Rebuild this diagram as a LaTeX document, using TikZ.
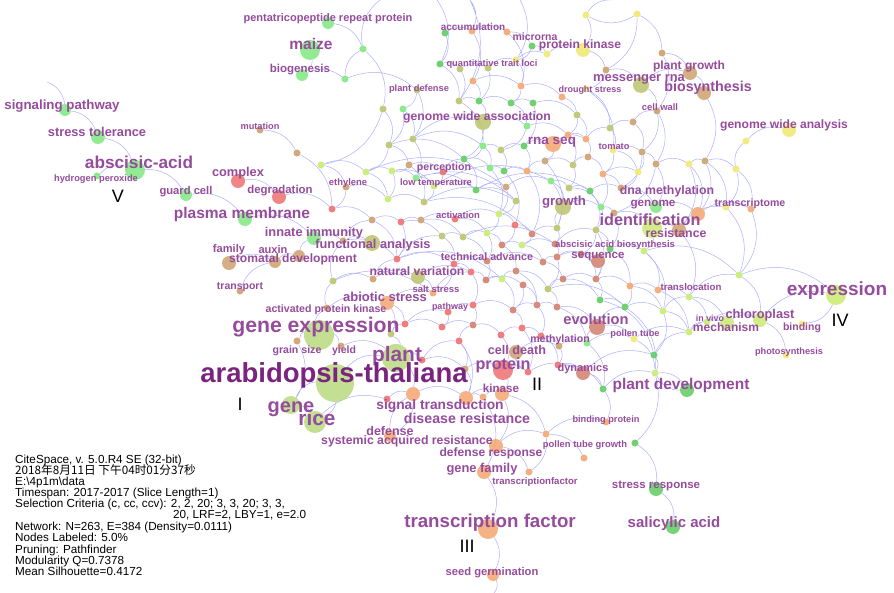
\documentclass[tikz,border=0pt]{standalone}
\usepackage{fontspec}
\setmainfont{Liberation Sans}
\newfontfamily\cjk{Noto Sans CJK SC}
\pgfdeclarelayer{bg}
\pgfsetlayers{bg,main}

\definecolor{kwtext}{RGB}{150,76,156}
\definecolor{kwdark}{RGB}{122,36,128}
\definecolor{linkblue}{RGB}{172,176,252}
\definecolor{cgreen}{RGB}{128,232,128}
\definecolor{cdgreen}{RGB}{96,204,96}
\definecolor{clime}{RGB}{200,236,112}
\definecolor{colive}{RGB}{188,196,108}
\definecolor{cyellow}{RGB}{240,232,112}
\definecolor{ctan}{RGB}{206,160,110}
\definecolor{corange}{RGB}{244,166,112}
\definecolor{cred}{RGB}{238,112,112}
\definecolor{crose}{RGB}{210,128,110}
\definecolor{cpale}{RGB}{184,218,128}

\tikzset{
    every node/.style={inner sep=0pt},
    kw/.style={circle,minimum size=#1,fill opacity=.85},
    sdot/.style={circle,minimum size=7,fill opacity=.9},
    lbl/.style={anchor=base,text=kwtext,font=\fontsize{#1}{#1}\selectfont\bfseries},
    num/.style={anchor=base,font=\fontsize{18}{18}\selectfont},
    info/.style={anchor=base west,font=\fontsize{11.7}{11.7}\selectfont},
    link/.style={draw=linkblue,line width=.5pt,bend left=30}
}

\begin{document}
\begin{tikzpicture}[x=1pt,y=-1pt]
\useasboundingbox (0,0) rectangle (894,593);

% free ends of links
\coordinate (c1) at (47,82);
\coordinate (t1) at (380,0);
\coordinate (t2) at (437,0);
\coordinate (t3) at (470,0);
\coordinate (t4) at (520,0);
\coordinate (t5) at (612,0);
\coordinate (b1) at (494,593);

% keyword nodes
\node[kw=12,fill=cgreen] (ppr) at (328,23) {};
\node[kw=20,fill=cgreen] (maize) at (310,50) {};
\node[kw=12,fill=cgreen] (biogen) at (302,75) {};
\node[kw=12,fill=cgreen] (sigpath) at (65,110) {};
\node[kw=14,fill=cgreen] (strtol) at (98,137) {};
\node[kw=20,fill=cgreen] (aba) at (135,170) {};
\node[kw=12,fill=cgreen] (guard) at (186,195) {};
\node[kw=14,fill=cred] (complex) at (238,181) {};
\node[kw=14,fill=cred] (degrad) at (279,197) {};
\node[kw=14,fill=cgreen] (plasma) at (245,219) {};
\node[kw=14,fill=cgreen] (innate) at (314,238) {};
\node[kw=16,fill=colive] (funcan) at (372,243) {};
\node[kw=14,fill=ctan] (family) at (229,263) {};
\node[kw=12,fill=ctan] (auxin) at (275,262) {};
\node[kw=12,fill=ctan] (stomatal) at (299,256) {};
\node[kw=14,fill=colive] (natvar) at (418,277) {};
\node[kw=14,fill=corange] (abiotic) at (387,303) {};
\node[kw=30,fill=cpale] (genexp) at (319,335) {};
\node[kw=28,fill=cpale] (plant) at (396,358) {};
\node[kw=38,fill=cpale] (arab) at (335,383) {};
\node[kw=18,fill=cpale] (gene) at (291,405) {};
\node[kw=22,fill=cpale] (rice) at (315,422) {};
\node[kw=14,fill=corange] (sigtr) at (413,394) {};
\node[kw=14,fill=corange] (sigtr2) at (466,398) {};
\node[kw=14,fill=corange] (kinase) at (502,394) {};
\node[kw=12,fill=corange] (defense) at (390,436) {};
\node[kw=14,fill=corange] (defresp) at (496,446) {};
\node[kw=14,fill=corange] (genefam) at (484,472) {};
\node[kw=20,fill=corange] (tf) at (488,529) {};
\node[kw=12,fill=corange] (seedg) at (493,575) {};
\node[kw=14,fill=ctan] (celldeath) at (516,352) {};
\node[kw=20,fill=cred] (protein) at (503,370) {};
\node[kw=16,fill=crose] (evol) at (597,327) {};
\node[kw=14,fill=crose] (dyn) at (583,373) {};
\node[kw=14,fill=cdgreen] (plantdev) at (687,390) {};
\node[kw=14,fill=cdgreen] (stressresp) at (656,489) {};
\node[kw=14,fill=cdgreen] (salic) at (673,527) {};
\node[kw=14,fill=clime] (chloro) at (760,320) {};
\node[kw=14,fill=clime] (mech) at (727,323) {};
\node[kw=20,fill=clime] (expr) at (836,295) {};
\node[kw=20,fill=clime] (ident) at (652,228) {};
\node[kw=12,fill=cgreen] (genome) at (656,207) {};
\node[kw=14,fill=ctan] (resist) at (679,230) {};
\node[kw=14,fill=corange] (dnameth) at (698,214) {};
\node[kw=14,fill=crose] (seq) at (598,261) {};
\node[kw=16,fill=colive] (growth) at (563,207) {};
\node[kw=16,fill=colive] (gwas) at (483,122) {};
\node[kw=16,fill=corange] (rnaseq) at (553,144) {};
\node[kw=14,fill=cyellow] (pk) at (583,50) {};
\node[kw=16,fill=colive] (mrna) at (641,85) {};
\node[kw=14,fill=ctan] (pgrowth) at (690,73) {};
\node[kw=14,fill=ctan] (biosyn) at (704,93) {};
\node[kw=14,fill=cyellow] (gwan) at (789,130) {};

% small nodes
\node[sdot,fill=cgreen] (d1) at (363,49) {};
\node[sdot,fill=cgreen] (d2) at (345,79) {};
\node[sdot,fill=cdgreen] (d3) at (445,33) {};
\node[sdot,fill=corange] (d4) at (472,31) {};
\node[sdot,fill=corange] (d5) at (507,32) {};
\node[sdot,fill=cdgreen] (d6) at (532,46) {};
\node[sdot,fill=cyellow] (d7) at (547,54) {};
\node[sdot,fill=cyellow] (d8) at (586,15) {};
\node[sdot,fill=cdgreen] (d9) at (440,64) {};
\node[sdot,fill=colive] (d10) at (460,69) {};
\node[sdot,fill=colive] (d11) at (488,68) {};
\node[sdot,fill=cyellow] (d12) at (516,60) {};
\node[sdot,fill=corange] (d13) at (473,81) {};
\node[sdot,fill=corange] (d14) at (521,86) {};
\node[sdot,fill=corange] (d15) at (562,97) {};
\node[sdot,fill=colive] (d16) at (417,90) {};
\node[sdot,fill=colive] (d17) at (383,109) {};
\node[sdot,fill=cgreen] (d18) at (403,109) {};
\node[sdot,fill=colive] (d19) at (459,101) {};
\node[sdot,fill=cdgreen] (d20) at (479,101) {};
\node[sdot,fill=cdgreen] (d21) at (511,103) {};
\node[sdot,fill=cdgreen] (d22) at (533,103) {};
\node[sdot,fill=colive] (d23) at (577,115) {};
\node[sdot,fill=cgreen] (d24) at (527,126) {};
\node[sdot,fill=corange] (d25) at (568,135) {};
\node[sdot,fill=corange] (d26) at (586,139) {};
\node[sdot,fill=colive] (d27) at (413,139) {};
\node[sdot,fill=colive] (d28) at (389,145) {};
\node[sdot,fill=cgreen] (d29) at (483,146) {};
\node[sdot,fill=colive] (d30) at (501,150) {};
\node[sdot,fill=cdgreen] (d31) at (524,146) {};
\node[sdot,fill=cdgreen] (d32) at (464,159) {};
\node[sdot,fill=ctan] (d33) at (409,165) {};
\node[sdot,fill=ctan] (d34) at (545,161) {};
\node[sdot,fill=colive] (d35) at (573,165) {};
\node[sdot,fill=ctan] (d36) at (588,157) {};
\node[sdot,fill=clime] (d37) at (321,165) {};
\node[sdot,fill=clime] (d38) at (366,172) {};
\node[sdot,fill=clime] (d39) at (392,171) {};
\node[sdot,fill=cred] (d40) at (443,172) {};
\node[sdot,fill=cgreen] (d41) at (490,168) {};
\node[sdot,fill=cdgreen] (d42) at (504,171) {};
\node[sdot,fill=corange] (d43) at (527,171) {};
\node[sdot,fill=cgreen] (d44) at (416,178) {};
\node[sdot,fill=ctan] (d45) at (346,187) {};
\node[sdot,fill=clime] (d46) at (434,186) {};
\node[sdot,fill=cdgreen] (d47) at (476,190) {};
\node[sdot,fill=ctan] (d48) at (506,187) {};
\node[sdot,fill=cgreen] (d49) at (551,181) {};
\node[sdot,fill=colive] (d50) at (569,188) {};
\node[sdot,fill=cdgreen] (d51) at (590,191) {};
\node[sdot,fill=cyellow] (d52) at (637,14) {};
\node[sdot,fill=ctan] (d53) at (662,53) {};
\node[sdot,fill=ctan] (d54) at (606,70) {};
\node[sdot,fill=cyellow] (d55) at (586,89) {};
\node[sdot,fill=ctan] (d56) at (657,111) {};
\node[sdot,fill=ctan] (d57) at (633,122) {};
\node[sdot,fill=colive] (d58) at (610,128) {};
\node[sdot,fill=cyellow] (d59) at (746,141) {};
\node[sdot,fill=cyellow] (d60) at (613,150) {};
\node[sdot,fill=ctan] (d61) at (642,152) {};
\node[sdot,fill=ctan] (d62) at (656,164) {};
\node[sdot,fill=cyellow] (d63) at (689,164) {};
\node[sdot,fill=ctan] (d64) at (705,161) {};
\node[sdot,fill=cyellow] (d65) at (736,169) {};
\node[sdot,fill=corange] (d66) at (603,174) {};
\node[sdot,fill=cyellow] (d67) at (638,172) {};
\node[sdot,fill=ctan] (d68) at (621,188) {};
\node[sdot,fill=cgreen] (d69) at (601,207) {};
\node[sdot,fill=ctan] (d70) at (614,213) {};
\node[sdot,fill=cyellow] (d71) at (726,207) {};
\node[sdot,fill=corange] (d72) at (751,209) {};
\node[sdot,fill=colive] (d73) at (596,230) {};
\node[sdot,fill=cdgreen] (d74) at (610,249) {};
\node[sdot,fill=clime] (d75) at (644,251) {};
\node[sdot,fill=crose] (d76) at (596,279) {};
\node[sdot,fill=clime] (d77) at (739,275) {};
\node[sdot,fill=corange] (d78) at (630,286) {};
\node[sdot,fill=corange] (d79) at (658,290) {};
\node[sdot,fill=clime] (d80) at (689,297) {};
\node[sdot,fill=cdgreen] (d81) at (600,300) {};
\node[sdot,fill=cdgreen] (d82) at (625,307) {};
\node[sdot,fill=clime] (d83) at (663,311) {};
\node[sdot,fill=clime] (d84) at (689,332) {};
\node[sdot,fill=cyellow] (d85) at (634,339) {};
\node[sdot,fill=cyellow] (d86) at (802,324) {};
\node[sdot,fill=cdgreen] (d87) at (654,355) {};
\node[sdot,fill=clime] (d88) at (655,373) {};
\node[sdot,fill=cyellow] (d89) at (786,355) {};
\node[sdot,fill=cdgreen] (d90) at (603,389) {};
\node[sdot,fill=clime] (d91) at (707,322) {};
\node[sdot,fill=clime] (d92) at (388,199) {};
\node[sdot,fill=colive] (d93) at (424,202) {};
\node[sdot,fill=colive] (d94) at (516,201) {};
\node[sdot,fill=cred] (d95) at (332,209) {};
\node[sdot,fill=ctan] (d96) at (372,220) {};
\node[sdot,fill=cred] (d97) at (401,222) {};
\node[sdot,fill=ctan] (d98) at (421,220) {};
\node[sdot,fill=cred] (d99) at (455,219) {};
\node[sdot,fill=clime] (d100) at (499,214) {};
\node[sdot,fill=cred] (d101) at (515,225) {};
\node[sdot,fill=crose] (d102) at (532,234) {};
\node[sdot,fill=colive] (d103) at (557,228) {};
\node[sdot,fill=ctan] (d104) at (343,241) {};
\node[sdot,fill=colive] (d105) at (442,236) {};
\node[sdot,fill=colive] (d106) at (463,237) {};
\node[sdot,fill=clime] (d107) at (487,233) {};
\node[sdot,fill=crose] (d108) at (502,245) {};
\node[sdot,fill=clime] (d109) at (522,245) {};
\node[sdot,fill=crose] (d110) at (555,244) {};
\node[sdot,fill=cred] (d111) at (397,259) {};
\node[sdot,fill=cred] (d112) at (454,264) {};
\node[sdot,fill=crose] (d113) at (487,261) {};
\node[sdot,fill=crose] (d114) at (543,262) {};
\node[sdot,fill=crose] (d115) at (557,257) {};
\node[sdot,fill=cred] (d116) at (471,272) {};
\node[sdot,fill=crose] (d117) at (516,271) {};
\node[sdot,fill=crose] (d118) at (486,280) {};
\node[sdot,fill=clime] (d119) at (502,279) {};
\node[sdot,fill=crose] (d120) at (563,279) {};
\node[sdot,fill=colive] (d121) at (333,281) {};
\node[sdot,fill=ctan] (d122) at (373,279) {};
\node[sdot,fill=crose] (d123) at (523,285) {};
\node[sdot,fill=colive] (d124) at (548,289) {};
\node[sdot,fill=cred] (d125) at (473,305) {};
\node[sdot,fill=crose] (d126) at (513,310) {};
\node[sdot,fill=crose] (d127) at (537,305) {};
\node[sdot,fill=crose] (d128) at (557,307) {};
\node[sdot,fill=cred] (d129) at (442,327) {};
\node[sdot,fill=crose] (d130) at (473,325) {};
\node[sdot,fill=cred] (d131) at (522,328) {};
\node[sdot,fill=cred] (d132) at (541,336) {};
\node[sdot,fill=cred] (d133) at (501,335) {};
\node[sdot,fill=cred] (d134) at (459,341) {};
\node[sdot,fill=cred] (d135) at (422,360) {};
\node[sdot,fill=cgreen] (d136) at (587,343) {};
\node[sdot,fill=cred] (d137) at (558,365) {};
\node[sdot,fill=cred] (d138) at (528,372) {};
\node[sdot,fill=ctan] (d139) at (465,369) {};
\node[sdot,fill=cred] (d140) at (405,324) {};
\node[sdot,fill=colive] (d141) at (391,334) {};
\node[sdot,fill=cred] (d142) at (387,399) {};
\node[sdot,fill=corange] (d143) at (483,397) {};
\node[sdot,fill=corange] (d144) at (546,434) {};
\node[sdot,fill=corange] (d145) at (584,458) {};
\node[sdot,fill=ctan] (d146) at (260,130) {};
\node[sdot,fill=ctan] (d147) at (297,153) {};
\node[sdot,fill=cgreen] (d148) at (97,176) {};
\node[sdot,fill=ctan] (d149) at (240,291) {};
\node[sdot,fill=ctan] (d150) at (327,308) {};
\node[sdot,fill=corange] (d151) at (433,293) {};
\node[sdot,fill=cred] (d152) at (448,312) {};
\node[sdot,fill=ctan] (d153) at (297,341) {};
\node[sdot,fill=ctan] (d154) at (341,346) {};
\node[sdot,fill=ctan] (d155) at (559,346) {};
\node[sdot,fill=corange] (d156) at (606,422) {};
\node[sdot,fill=cdgreen] (d157) at (635,443) {};
\node[sdot,fill=corange] (d158) at (529,472) {};
\node[sdot,fill=crose] (d159) at (581,254) {};

% labels
\node[lbl=11] (ppr-t) at (328,22) {pentatricopeptide repeat protein};
\node[lbl=15.5] (maize-t) at (311,50) {maize};
\node[lbl=11.5] (biogen-t) at (300,73) {biogenesis};
\node[lbl=13.3] (sigpath-t) at (62,110) {signaling pathway};
\node[lbl=12.8] (strtol-t) at (97,137) {stress tolerance};
\node[lbl=17.2] (aba-t) at (139,169) {abscisic-acid};
\node[lbl=9.3] (h2o2-t) at (96,182) {hydrogen peroxide};
\node[lbl=11.2] (guard-t) at (186,195) {guard cell};
\node[lbl=12.8] (complex-t) at (238,177) {complex};
\node[lbl=11.4] (degrad-t) at (280,194) {degradation};
\node[lbl=9.2] (mutat-t) at (260,130) {mutation};
\node[lbl=15.5] (plasma-t) at (242,219) {plasma membrane};
\node[lbl=12.8] (innate-t) at (314,237) {innate immunity};
\node[lbl=12.8] (funcan-t) at (373,249) {functional analysis};
\node[lbl=11.1] (family-t) at (229,253) {family};
\node[lbl=11.1] (auxin-t) at (273,254) {auxin};
\node[lbl=12.1] (stomatal-t) at (293,263) {stomatal development};
\node[lbl=10.5] (transport-t) at (240,290) {transport};
\node[lbl=12.2] (natvar-t) at (417,276) {natural variation};
\node[lbl=13] (abiotic-t) at (385,302) {abiotic stress};
\node[lbl=10.6] (apk-t) at (326,313) {activated protein kinase};
\node[lbl=9.5] (salt-t) at (436,293) {salt stress};
\node[lbl=9] (pathway-t) at (450,310) {pathway};
\node[lbl=21.2] (genexp-t) at (316,333) {gene expression};
\node[lbl=10.6] (grain-t) at (297,354) {grain size};
\node[lbl=10.5] (yield-t) at (344,354) {yield};
\node[lbl=20.9] (plant-t) at (397,362) {plant};
\node[lbl=27.5,text=kwdark] (arab-t) at (334,383) {arabidopsis-thaliana};
\node[lbl=20] (gene-t) at (291,412) {gene};
\node[lbl=20.8] (rice-t) at (317,425) {rice};
\node[lbl=13.8] (sigtr-t) at (440,409) {signal transduction};
\node[lbl=11.6] (kinase-t) at (501,392) {kinase};
\node[lbl=14.2] (disres-t) at (467,423) {disease resistance};
\node[lbl=12.5] (defense-t) at (390,435) {defense};
\node[lbl=12.3] (sar-t) at (407,444) {systemic acquired resistance};
\node[lbl=12.1] (defresp-t) at (491,456) {defense response};
\node[lbl=12.9] (genefam-t) at (482,472) {gene family};
\node[lbl=9.6] (tfs-t) at (535,484) {transcriptionfactor};
\node[lbl=18.7] (tf-t) at (490,527) {transcription factor};
\node[lbl=11.2] (seedg-t) at (492,575) {seed germination};
\node[lbl=12.6] (celldeath-t) at (517,355) {cell death};
\node[lbl=16.2] (protein-t) at (503,370) {protein};
\node[lbl=10.6] (methyl-t) at (560,343) {methylation};
\node[lbl=14.7] (evol-t) at (596,325) {evolution};
\node[lbl=11] (dyn-t) at (583,372) {dynamics};
\node[lbl=9.2] (pollen-t) at (635,337) {pollen tube};
\node[lbl=15.5] (plantdev-t) at (681,389) {plant development};
\node[lbl=9.2] (bindprot-t) at (606,422) {binding protein};
\node[lbl=9.4] (ptg-t) at (585,447) {pollen tube growth};
\node[lbl=11.5] (stressresp-t) at (656,488) {stress response};
\node[lbl=15] (salic-t) at (674,527) {salicylic acid};
\node[lbl=9.7] (transloc-t) at (691,291) {translocation};
\node[lbl=8.9] (invivo-t) at (710,322) {in vivo};
\node[lbl=12.8] (chloro-t) at (760,319) {chloroplast};
\node[lbl=12] (mech-t) at (726,332) {mechanism};
\node[lbl=10.5] (binding-t) at (802,331) {binding};
\node[lbl=9.2] (photo-t) at (789,355) {photosynthesis};
\node[lbl=19] (expr-t) at (837,296) {expression};
\node[lbl=16.2] (ident-t) at (650,226) {identification};
\node[lbl=11.7] (genome-t) at (653,207) {genome};
\node[lbl=12.3] (resist-t) at (676,238) {resistance};
\node[lbl=12.3] (dnameth-t) at (667,195) {dna methylation};
\node[lbl=10.6] (transcr-t) at (750,207) {transcriptome};
\node[lbl=9.5] (abab-t) at (615,248) {abscisic acid biosynthesis};
\node[lbl=11.5] (seq-t) at (598,259) {sequence};
\node[lbl=10.7] (techadv-t) at (487,261) {technical advance};
\node[lbl=9.4] (activ-t) at (458,219) {activation};
\node[lbl=13.2] (growth-t) at (564,206) {growth};
\node[lbl=10.6] (percep-t) at (444,171) {perception};
\node[lbl=9.3] (lowtemp-t) at (436,186) {low temperature};
\node[lbl=9.4] (ethyl-t) at (348,186) {ethylene};
\node[lbl=12.2] (gwas-t) at (477,121) {genome wide association};
\node[lbl=13.5] (rnaseq-t) at (552,145) {rna seq};
\node[lbl=9.3] (tomato-t) at (614,150) {tomato};
\node[lbl=9.3] (pdef-t) at (419,92) {plant defense};
\node[lbl=9.3] (qtl-t) at (492,67) {quantitative trait loci};
\node[lbl=10] (accum-t) at (473,31) {accumulation};
\node[lbl=10.5] (mirna-t) at (535,41) {microrna};
\node[lbl=12.1] (pk-t) at (580,49) {protein kinase};
\node[lbl=12.9] (mrna-t) at (639,82) {messenger rna};
\node[lbl=12] (pgrowth-t) at (689,70) {plant growth};
\node[lbl=14.3] (biosyn-t) at (708,92) {biosynthesis};
\node[lbl=9] (drought-t) at (590,93) {drought stress};
\node[lbl=9.4] (cellwall-t) at (660,111) {cell wall};
\node[lbl=12.1] (gwan-t) at (784,129) {genome wide analysis};

% cluster numbers
\node[num] (nI) at (240,410) {I};
\node[num] (nII) at (537,390) {II};
\node[num] (nIII) at (467,552) {III};
\node[num] (nIV) at (840,327) {IV};
\node[num] (nV) at (118,203) {V};

% run info
\node[info] (cs1) at (15,463) {CiteSpace, v. 5.0.R4 SE (32-bit)};
\node[info] (cs2) at (15,474) {\cjk 2018年8月11日 下午04时01分37秒};
\node[info] (cs3) at (15,485) {E:\textbackslash 4p1m\textbackslash data};
\node[info] (cs4) at (15,496) {Timespan: 2017-2017 (Slice Length=1)};
\node[info] (cs5) at (15,507) {Selection Criteria (c, cc, ccv): 2, 2, 20; 3, 3, 20; 3, 3,};
\node[info] (cs6) at (173,518) {20, LRF=2, LBY=1, e=2.0};
\node[info] (cs7) at (15,530) {Network: N=263, E=384 (Density=0.0111)};
\node[info] (cs8) at (15,541) {Nodes Labeled: 5.0\%};
\node[info] (cs9) at (15,553) {Pruning: Pathfinder};
\node[info] (cs10) at (15,564) {Modularity Q=0.7378};
\node[info] (cs11) at (15,575) {Mean Silhouette=0.4172};

% links
\begin{pgfonlayer}{bg}
\fill[white] (0,0) rectangle (894,593);
\draw[link] (c1) to (sigpath) (sigpath) to (strtol) (strtol) to (aba) (d148) to (aba)
    (aba) to (guard) (guard) to (plasma) (plasma) to (innate) (d146) to (d147)
    (d147) to (d95) (complex) to (degrad) (degrad) to (d95) (family) to (auxin)
    (d149) to (auxin) (auxin) to (stomatal) (stomatal) to (innate) (maize) to (biogen)
    (ppr) to (d1) (biogen) to (d2) (d2) to (d1) (d1) to (t1) (t2) to (d9) (t3) to (d19)
    (t4) to (d12) (d8) to (t5) (d52) to (d54) (t3) to (d4) (d52) to (d8);
\draw[link] (d1) to (d17) (d2) to (d16) (d17) to (d28) (d18) to (d27) (d16) to (d18)
    (d3) to (d4) (d4) to (d5) (d9) to (d10) (d10) to (d11) (d11) to (d12) (d12) to (d7)
    (d6) to (d7) (d7) to (pk) (d5) to (d6) (d13) to (d14) (d14) to (d15) (d15) to (d23)
    (d19) to (d20) (d20) to (d21) (d21) to (d22) (d22) to (d23) (d9) to (d19)
    (d13) to (d20) (d12) to (d14) (d8) to (pk) (pk) to (d54) (d54) to (d55) (d55) to (d58);
\draw[link] (d27) to (gwas) (d28) to (d33) (gwas) to (d24) (d24) to (d25) (d25) to (d26)
    (d29) to (d30) (d30) to (d31) (d31) to (rnaseq) (rnaseq) to (d26) (d32) to (d41)
    (d41) to (d42) (d42) to (d43) (d43) to (d34) (d34) to (d35) (d35) to (d36)
    (d33) to (d39) (d37) to (d38) (d38) to (d39) (d39) to (d44) (d40) to (d46)
    (d44) to (d46) (d45) to (d92) (d46) to (d47) (d47) to (d48) (d48) to (d49)
    (d49) to (d50) (d50) to (d51) (d51) to (d68) (d66) to (d67) (d60) to (d61) (d61) to (d62);
\draw[link] (d58) to (d57) (d57) to (d56) (mrna) to (pgrowth) (pgrowth) to (biosyn)
    (d53) to (pgrowth) (d52) to (d53) (d54) to (mrna) (d56) to (d62) (d62) to (d63)
    (d63) to (d64) (d64) to (d65) (d65) to (d59) (d59) to (gwan) (d64) to (d71)
    (d71) to (d72) (d71) to (d77) (d77) to (expr) (expr) to (d86) (d80) to (d77)
    (d79) to (d80) (d78) to (d79) (d83) to (d80) (d84) to (mech) (d91) to (chloro)
    (mech) to (chloro) (chloro) to (d89) (d80) to (d91) (d84) to (d91) (d83) to (d84)
    (d82) to (d83) (d81) to (d82) (d85) to (d84) (d87) to (d88) (d88) to (plantdev)
    (d90) to (d88) (d87) to (d84);
\draw[link] (d90) to (d156) (d88) to (d157) (d157) to (stressresp) (stressresp) to (salic)
    (d144) to (d145) (d144) to (d158) (d144) to (d156) (defresp) to (d158)
    (genefam) to (tf) (tf) to (seedg) (seedg) to (b1) (defresp) to (d144)
    (kinase) to (defresp) (sigtr2) to (kinase) (sigtr) to (sigtr2) (d142) to (sigtr)
    (defense) to (sigtr) (d143) to (genefam) (protein) to (kinase) (celldeath) to (protein)
    (d138) to (celldeath) (d137) to (dyn) (dyn) to (d90) (d136) to (evol) (d155) to (d137)
    (evol) to (d85) (seq) to (d76) (d76) to (d81) (d120) to (d76);
\draw[link] (d124) to (d128) (d127) to (d132) (d131) to (d138) (d133) to (protein)
    (d134) to (d139) (d139) to (protein) (d129) to (d130) (d130) to (d133)
    (d125) to (d126) (d126) to (d127) (d128) to (d136) (d152) to (d125) (d151) to (d116)
    (d116) to (d118) (d118) to (d123) (d119) to (d117) (d117) to (d124) (d123) to (d126)
    (d112) to (d113) (d113) to (d114) (d114) to (d115) (d115) to (d159) (d159) to (seq)
    (d111) to (d112) (natvar) to (d116) (d122) to (natvar) (d121) to (d122)
    (d150) to (d121) (abiotic) to (d151) (abiotic) to (d140) (d140) to (d129)
    (d141) to (plant) (plant) to (d135) (d135) to (d134);
\draw[link] (genexp) to (d150) (genexp) to (d154) (d153) to (genexp) (gene) to (arab)
    (arab) to (rice) (arab) to (plant) (gene) to (rice) (d153) to (gene) (rice) to (d142)
    (d104) to (funcan) (d95) to (d96) (d96) to (d97) (d97) to (d98) (d98) to (d99)
    (d99) to (d100) (d100) to (d101) (d101) to (d102) (d102) to (d103) (d103) to (growth)
    (growth) to (d69) (d69) to (d70) (d70) to (ident) (ident) to (resist)
    (genome) to (dnameth) (resist) to (d71) (d73) to (d74) (d74) to (d75) (d75) to (d77)
    (d92) to (d93) (d93) to (d94) (d94) to (d100);
\draw[link] (d105) to (d106) (d106) to (d107) (d107) to (d108) (d108) to (d109)
    (d109) to (d110) (d110) to (d73) (d111) to (d105) (d104) to (d111) (innate) to (d104)
    (d38) to (d92) (d33) to (d93) (d32) to (d47) (d29) to (d32) (d41) to (d100)
    (d42) to (d101) (d43) to (d102) (d34) to (d103) (d35) to (d50) (d36) to (d66)
    (d66) to (d69) (d67) to (d68) (d68) to (genome) (d49) to (growth) (d26) to (d36)
    (d23) to (d26) (d55) to (d60) (d60) to (d66) (d61) to (d67) (d62) to (d70)
    (d63) to (resist) (d65) to (d72) (d57) to (d61);
\draw[link] (d27) to (d29) (d28) to (d32) (d44) to (d47) (d39) to (d46) (d97) to (d105)
    (d98) to (d106) (d99) to (d107) (d112) to (d116) (d113) to (d118) (d114) to (d120)
    (d115) to (d124) (d117) to (d127) (d119) to (d126) (d125) to (d130) (d126) to (d131)
    (d127) to (d128) (d132) to (d155) (d131) to (d132) (d137) to (d90) (d136) to (d85)
    (d81) to (d87) (d82) to (d88) (d78) to (d83) (d74) to (d78) (d75) to (d79)
    (d73) to (d76) (d120) to (d81) (d124) to (d82) (d128) to (evol) (d46) to (d49)
    (d47) to (d51) (d38) to (d48) (d44) to (d94) (d93) to (d102) (d106) to (d110)
    (d111) to (d119) (d121) to (d151);
\draw[link] (d3) to (d9) (d4) to (d13) (d5) to (d14) (d6) to (d12) (d10) to (d19)
    (d11) to (d20) (d14) to (d21) (d16) to (d27) (d17) to (d37) (d18) to (d28)
    (d19) to (d29) (d20) to (gwas) (d21) to (d24) (d22) to (d31) (d23) to (d25)
    (d24) to (d30) (gwas) to (d32) (d29) to (d41) (d30) to (d42) (d31) to (d43)
    (rnaseq) to (d34) (d25) to (d35) (d26) to (d58) (d33) to (d40) (d27) to (d44)
    (d28) to (d38) (d37) to (d45) (d45) to (d95) (d39) to (d92) (d40) to (d32)
    (d46) to (d93) (d47) to (d94) (d48) to (d100) (d49) to (d103) (d50) to (d69)
    (d51) to (d73) (d66) to (d68) (d58) to (d60) (d60) to (d67) (d61) to (d68);
\draw[link] (d62) to (genome) (d56) to (d61) (mrna) to (d56) (d53) to (d56)
    (biosyn) to (d64) (d63) to (dnameth) (d64) to (dnameth) (d65) to (d71) (d70) to (d74)
    (d69) to (d73) (ident) to (d75) (resist) to (d80) (dnameth) to (d72) (d72) to (d77)
    (d75) to (d83) (d78) to (d82) (d79) to (d84) (d80) to (mech) (chloro) to (expr)
    (d77) to (chloro) (d83) to (d87) (d85) to (d88) (evol) to (d82) (d76) to (d78)
    (d136) to (d90) (dyn) to (d87) (plantdev) to (d88) (d155) to (d136)
    (celldeath) to (d155) (d132) to (d137) (d138) to (dyn) (protein) to (d138)
    (d133) to (d131) (d134) to (d130) (d135) to (d139) (d141) to (d140);
\draw[link] (d140) to (d152) (d152) to (d129) (d122) to (d111) (d121) to (d104)
    (d104) to (d96) (d96) to (d111) (d97) to (d111) (d105) to (d112) (d106) to (d113)
    (d107) to (d113) (d108) to (d117) (d109) to (d114) (d110) to (d115) (d103) to (d110)
    (d102) to (d109) (d101) to (d108) (d100) to (d107) (d116) to (d125) (d118) to (d119)
    (d123) to (d127) (d124) to (d120) (d159) to (d76) (d115) to (seq) (d73) to (d159)
    (d112) to (d151) (natvar) to (d151) (abiotic) to (d141) (d150) to (abiotic)
    (d154) to (plant) (plant) to (sigtr) (sigtr) to (defense) (d143) to (kinase)
    (sigtr2) to (d143) (d139) to (sigtr2) (d134) to (sigtr2) (kinase) to (d144);
\end{pgfonlayer}
\end{tikzpicture}
\end{document}
